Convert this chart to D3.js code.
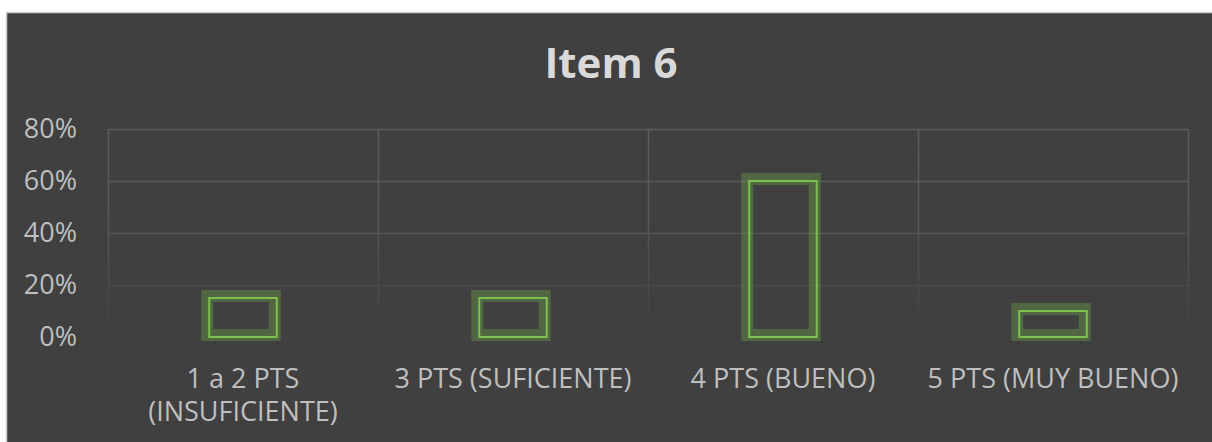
<!DOCTYPE html>
<html lang="es">
  <head>
    <meta charset="utf-8">
    <script src="https://d3js.org/d3.v7.min.js"></script>
    <title>Item 6</title>
    <style>
      body { margin: 0; background: #ffffff; }
      svg { display: block; }
    </style>
  </head>
  <body>
    <div id="chart"></div>
  <script>

    // data
    const categories = ["1 a 2 PTS\n(INSUFICIENTE)", "3 PTS (SUFICIENTE)", "4 PTS (BUENO)", "5 PTS (MUY BUENO)"];
    const values = [0.15, 0.15, 0.60, 0.10];
    const yTicks = [0, 0.2, 0.4, 0.6, 0.8];
    const title = "Item 6";

    const W = 1212, H = 442;
    const margin = {top: 129, right: 24, bottom: 105, left: 108},
        width = W - margin.left - margin.right,
        height = H - margin.top - margin.bottom;

    const root = d3.select("#chart")
      .append("svg")
        .attr("width", W)
        .attr("height", H);

    // chart background + border
    root.append("rect")
      .attr("x", 6.5)
      .attr("y", 12.5)
      .attr("width", W)
      .attr("height", H)
      .attr("fill", "#404040")
      .attr("stroke", "#d0d0d0")
      .attr("stroke-width", 1.5);

    root.append("text")
      .attr("x", 611)
      .attr("y", 78)
      .attr("text-anchor", "middle")
      .style("font-family", "'Open Sans', sans-serif")
      .style("font-weight", "bold")
      .style("font-size", "42px")
      .style("fill", "#d9d9d9")
      .text(title);

    const svg = root.append("g")
      .attr("transform", `translate(${margin.left},${margin.top})`);

    const x = d3.scaleBand()
      .domain(categories)
      .range([0, width])
      .padding(0);

    const y = d3.scaleLinear()
      .domain([0, 0.8])
      .range([height, 0]);

    // fading grid: mask goes from opaque at top to clear at the bottom
    const defs = root.append("defs");
    const grad = defs.append("linearGradient")
      .attr("id", "fade")
      .attr("gradientUnits", "userSpaceOnUse")
      .attr("x1", 0).attr("x2", 0)
      .attr("y1", 0).attr("y2", height);
    grad.append("stop").attr("offset", "0%").attr("stop-color", "#fff").attr("stop-opacity", 1);
    grad.append("stop").attr("offset", "45%").attr("stop-color", "#fff").attr("stop-opacity", 0.85);
    grad.append("stop").attr("offset", "100%").attr("stop-color", "#fff").attr("stop-opacity", 0);
    defs.append("mask")
      .attr("id", "gridmask")
      .attr("maskUnits", "userSpaceOnUse")
      .attr("x", -5).attr("y", -5).attr("width", width + 10).attr("height", height + 10)
      .append("rect")
        .attr("x", -5).attr("y", -5)
        .attr("width", width + 10).attr("height", height + 10)
        .attr("fill", "url(#fade)");

    const grid = svg.append("g").attr("mask", "url(#gridmask)");

    grid.selectAll("line.h")
      .data(yTicks.filter(d => d > 0))
      .join("line")
        .attr("class", "h")
        .attr("x1", 0)
        .attr("x2", width)
        .attr("y1", d => Math.round(y(d)) + 0.5)
        .attr("y2", d => Math.round(y(d)) + 0.5)
        .attr("stroke", "#5c5c5c")
        .attr("stroke-width", 1.5);

    const vx = categories.map(c => x(c)).concat([width]);
    grid.selectAll("line.v")
      .data(vx)
      .join("line")
        .attr("class", "v")
        .attr("x1", d => Math.round(d) + 0.5)
        .attr("x2", d => Math.round(d) + 0.5)
        .attr("y1", 0)
        .attr("y2", height)
        .attr("stroke", "#5c5c5c")
        .attr("stroke-width", 1.5);

    // y labels
    svg.selectAll("text.ylab")
      .data(yTicks)
      .join("text")
        .attr("class", "ylab")
        .attr("x", -31)
        .attr("y", d => y(d))
        .attr("dy", "0.35em")
        .attr("text-anchor", "end")
        .style("font-family", "'Open Sans', sans-serif")
        .style("font-size", "27px")
        .style("fill", "#bfbfbf")
        .text(d => d3.format(".0%")(d));

    // bars: soft green glow + bright outline
    const bw = x.bandwidth() * 0.25;
    const bars = svg.append("g")
      .selectAll("g")
      .data(values)
      .join("g")
        .attr("transform", (d, i) => `translate(${x(categories[i]) + x.bandwidth() / 2 - bw / 2},0)`);

    bars.append("rect")
      .attr("x", -2)
      .attr("y", d => y(d) - 2)
      .attr("width", bw)
      .attr("height", d => height - y(d))
      .attr("fill", "none")
      .attr("stroke", "#70ad47")
      .attr("stroke-opacity", 0.36)
      .attr("stroke-width", 12);

    bars.append("rect")
      .attr("x", 0)
      .attr("y", d => y(d))
      .attr("width", bw)
      .attr("height", d => height - y(d))
      .attr("fill", "none")
      .attr("stroke", "#7dc14f")
      .attr("stroke-width", 2);

    // category labels
    const xl = svg.selectAll("text.xlab")
      .data(categories)
      .join("text")
        .attr("class", "xlab")
        .attr("text-anchor", "middle")
        .style("font-family", "'Open Sans', sans-serif")
        .style("font-size", "27px")
        .style("fill", "#bfbfbf");

    xl.selectAll("tspan")
      .data(d => d.split("\n").map(t => ({t: t, c: d})))
      .join("tspan")
        .attr("x", d => x(d.c) + x.bandwidth() / 2)
        .attr("y", (d, i) => height + 51 + i * 33)
        .text(d => d.t);

  </script>
  </body>
</html>
